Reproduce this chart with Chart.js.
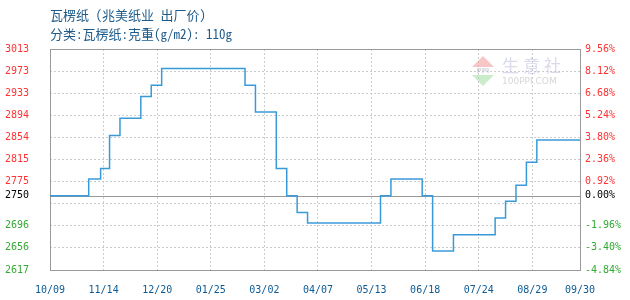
<!DOCTYPE html>
<html>
<head>
<meta charset="utf-8">
<script src="https://cdn.jsdelivr.net/npm/chart.js@4/dist/chart.umd.min.js"></script>
<style>
  body { margin: 0; background: #fff; }
  #wrap { position: relative; width: 630px; height: 300px; }
  .title { position: absolute; left: 50px; font: 13px/13px "Noto Sans Mono CJK SC", "Noto Sans CJK SC", monospace; color: #1d5b8a; white-space: pre; }
  canvas { position: absolute; left: 0; top: 0; }
</style>
</head>
<body>
<div id="wrap">
  <canvas id="priceChart" width="630" height="300"></canvas>
  <div class="title" style="top:8px">瓦楞纸 (兆美纸业 出厂价)</div>
  <div class="title" style="top:27px">分类:瓦楞纸:克重(g/m2): 110g</div>
</div>
<script>
// x axis: days counted from 10/09
const xLabels = ['10/09', '11/14', '12/20', '01/25', '03/02', '04/07', '05/13', '06/18', '07/24', '08/29', '09/30'];
const xTickDays = [0, 36, 72, 108, 144, 180, 216, 252, 288, 324, 356];

// price changes: day the new price starts, and the price
const stepDays = [0, 26, 34, 40, 47, 61, 68, 75, 131, 138, 152, 159, 166, 173, 222, 229, 250, 257, 271, 299, 306, 313, 320, 327, 356];
const prices = [2750, 2780, 2799, 2858, 2889, 2928, 2948, 2978, 2948, 2900, 2799, 2750, 2720, 2701, 2750, 2780, 2750, 2651, 2680, 2710, 2740, 2769, 2810, 2850, 2850];

const basePrice = 2750;
const yTicks = [3013, 2973.4, 2933.8, 2894.2, 2854.6, 2815, 2775.4, 2750, 2735.8, 2696.2, 2656.6, 2617];
const yLabels = ['3013', '2973', '2933', '2894', '2854', '2815', '2775', '2750', '', '2696', '2656', '2617'];
const pctLabels = ['9.56%', '8.12%', '6.68%', '5.24%', '3.80%', '2.36%', '0.92%', '0.00%', '', '-1.96%', '-3.40%', '-4.84%'];

const monoFont = { family: 'DejaVu Sans Mono', size: 10 };

function tickColor(v) {
  if (v > basePrice) return '#f33';
  if (v < basePrice) return '#3a3';
  return '#000';
}

const framePlugin = {
  id: 'frame',
  beforeDatasetsDraw(chart) {
    const { ctx, chartArea: a, scales } = chart;
    ctx.save();

    // 100ppi watermark
    ctx.globalAlpha = 0.6;
    ctx.fillStyle = '#f2a0a0';
    ctx.beginPath();
    ctx.moveTo(483, 56); ctx.lineTo(494, 67); ctx.lineTo(472, 67); ctx.closePath(); ctx.fill();
    ctx.fillStyle = '#a8e0a8';
    ctx.beginPath();
    ctx.moveTo(472, 75); ctx.lineTo(494, 75); ctx.lineTo(483, 86); ctx.closePath(); ctx.fill();
    ctx.fillStyle = '#b8bccc';
    ctx.font = 'bold 7px "DejaVu Sans"';
    ctx.textAlign = 'center';
    ctx.textBaseline = 'middle';
    ctx.fillText('PPI', 483, 71);
    ctx.fillStyle = '#bfc2dc';
    ctx.font = '17px "Noto Sans CJK SC"';
    ctx.textAlign = 'left';
    ctx.textBaseline = 'alphabetic';
    ['生', '意', '社'].forEach((ch, i) => ctx.fillText(ch, 502 + i * 21, 72));
    ctx.fillStyle = '#bbb';
    ctx.font = '9px "DejaVu Sans"';
    ctx.fillText('100PPI.COM', 502, 84);
    ctx.globalAlpha = 1;

    ctx.strokeStyle = '#999';
    ctx.lineWidth = 1;
    ctx.strokeRect(Math.round(a.left) + 0.5, Math.round(a.top) + 0.5,
      Math.round(a.right - a.left), Math.round(a.bottom - a.top));
    const y = Math.round(scales.y.getPixelForValue(basePrice)) + 0.5;
    ctx.beginPath();
    ctx.moveTo(a.left, y);
    ctx.lineTo(a.right, y);
    ctx.stroke();
    ctx.restore();
  }
};

const yScale = (position, labels, width, padding) => ({
  position: position,
  min: 2617,
  max: 3013,
  afterBuildTicks: s => { s.ticks = yTicks.map(v => ({ value: v })); },
  afterFit: s => { s.width = width; },
  ticks: {
    callback: (v, i) => labels[i],
    color: c => tickColor(c.tick.value),
    font: monoFont,
    crossAlign: position === 'left' ? 'far' : 'near',
    padding: padding,
    autoSkip: false
  },
  grid: {
    display: position === 'left',
    color: c => (c.tick && c.tick.value === basePrice) ? 'rgba(0,0,0,0)' : '#ccc',
    drawTicks: false
  },
  border: { display: false, dash: [2, 2] }
});

const ctx = document.getElementById('priceChart').getContext('2d');
new Chart(ctx, {
  type: 'line',
  data: {
    datasets: [{
      data: stepDays.map((d, i) => ({ x: d, y: prices[i] })),
      borderColor: '#3a9ad9',
      borderWidth: 1.5,
      stepped: 'before',
      pointRadius: 0,
      fill: false
    }]
  },
  options: {
    responsive: false,
    animation: false,
    devicePixelRatio: 1,
    layout: { padding: { top: 49, left: 5, right: 0, bottom: 0 } },
    plugins: { legend: { display: false }, tooltip: { enabled: false } },
    scales: {
      x: {
        type: 'linear',
        min: 0,
        max: 356,
        afterBuildTicks: s => { s.ticks = xTickDays.map(v => ({ value: v })); },
        afterFit: s => { s.height = 30; },
        ticks: {
          callback: (v, i) => xLabels[i],
          color: '#0d5a94',
          font: monoFont,
          padding: 14,
          maxRotation: 0,
          autoSkip: false
        },
        grid: { color: '#ccc', drawTicks: false },
        border: { display: false, dash: [2, 2] }
      },
      y: yScale('left', yLabels, 45, 0),
      y2: yScale('right', pctLabels, 50, 5)
    }
  },
  plugins: [framePlugin]
});
</script>
</body>
</html>
